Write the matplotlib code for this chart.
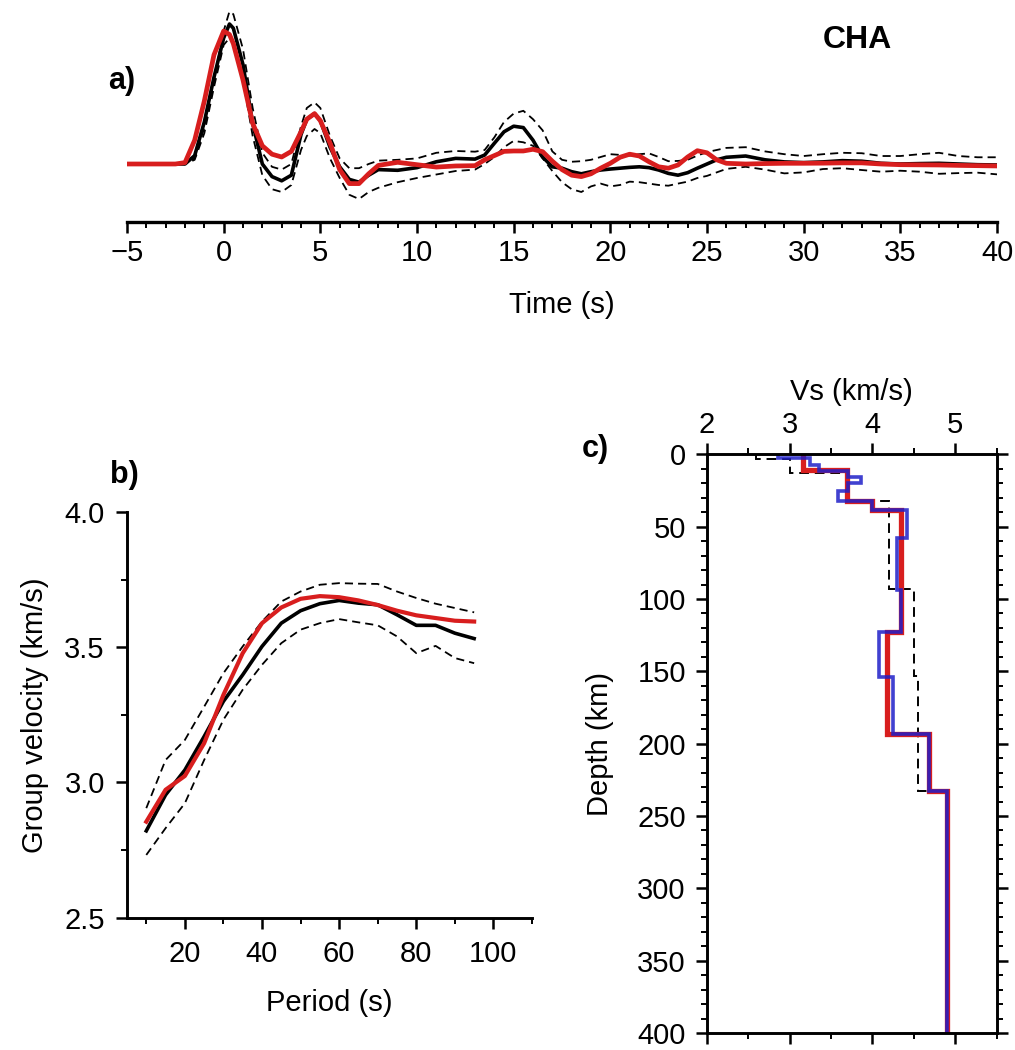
import matplotlib
matplotlib.use("Agg")
import matplotlib.pyplot as plt
from matplotlib.ticker import MultipleLocator

plt.rcParams["font.family"] = ["Liberation Sans", "DejaVu Sans"]
plt.rcParams["font.size"] = 21

# ---- panel a: waveforms ----
time_s = [-5, -2.5, -2, -1.5, -1, -0.5, 0, 0.3, 0.5, 1, 1.5, 2, 2.5, 3, 3.5, 4,
          4.3, 4.7, 5, 5.5, 6, 6.5, 7, 7.5, 8, 9, 10, 11, 12, 13, 13.5, 14, 14.5,
          15, 15.5, 16, 16.5, 17, 17.5, 18, 18.5, 19, 19.5, 20, 20.5, 21, 21.5,
          22, 22.5, 23, 23.5, 24, 24.5, 25, 25.5, 26, 27, 28, 29, 30, 31, 32, 33,
          34, 35, 36, 37, 38, 39, 40]
wave_obs = [0, 0, 0.0, 0.06, 0.30, 0.62, 0.90, 1.0, 0.97, 0.71, 0.29, 0.0, -0.09,
            -0.12, -0.08, 0.21, 0.32, 0.36, 0.31, 0.12, -0.02, -0.11, -0.13, -0.08,
            -0.04, -0.045, -0.026, 0.016, 0.04, 0.035, 0.064, 0.148, 0.23, 0.27,
            0.26, 0.17, 0.05, -0.02, -0.03, -0.055, -0.07, -0.055, -0.043, -0.036,
            -0.03, -0.024, -0.02, -0.026, -0.043, -0.067, -0.08, -0.062, -0.03, 0.0,
            0.03, 0.048, 0.057, 0.03, 0.015, 0.01, 0.015, 0.024, 0.02, 0.005, 0.0,
            0.003, 0.005, 0.0, -0.005, -0.007]
wave_syn = [0, 0, 0.01, 0.17, 0.45, 0.78, 0.95, 0.925, 0.86, 0.60, 0.29, 0.13, 0.07,
            0.05, 0.09, 0.23, 0.32, 0.36, 0.31, 0.15, -0.04, -0.14, -0.14, -0.07,
            -0.01, 0.012, -0.005, -0.022, -0.014, -0.012, 0.03, 0.06, 0.09, 0.093,
            0.093, 0.105, 0.088, 0.02, -0.04, -0.08, -0.09, -0.07, -0.03, 0.005,
            0.048, 0.07, 0.057, 0.016, -0.02, -0.03, -0.007, 0.05, 0.095, 0.08,
            0.03, 0.005, 0.0, 0.003, 0.005, 0.005, 0.006, 0.008, 0.008, 0.0, -0.005,
            -0.006, -0.007, -0.01, -0.012, -0.014]
wave_hi = [0, 0, 0.0, 0.04, 0.26, 0.6, 0.95, 1.09, 1.07, 0.82, 0.40, 0.08, -0.02,
           -0.04, 0.0, 0.27, 0.40, 0.44, 0.40, 0.2, 0.04, -0.03, -0.03, 0.0, 0.024,
           0.03, 0.04, 0.08, 0.093, 0.088, 0.1, 0.19, 0.3, 0.36, 0.38, 0.32, 0.24,
           0.09, 0.03, 0.016, 0.02, 0.03, 0.05, 0.07, 0.065, 0.06, 0.07, 0.076,
           0.05, 0.02, 0.022, 0.03, 0.06, 0.085, 0.1, 0.115, 0.12, 0.09, 0.07,
           0.057, 0.07, 0.08, 0.077, 0.057, 0.057, 0.07, 0.08, 0.057, 0.048, 0.048]
wave_lo = [0, 0, 0.0, 0.03, 0.22, 0.55, 0.85, 0.90, 0.87, 0.60, 0.20, -0.08, -0.18,
           -0.20, -0.15, 0.10, 0.20, 0.25, 0.22, 0.04, -0.1, -0.22, -0.25, -0.2,
           -0.17, -0.13, -0.1, -0.075, -0.05, -0.04, 0.0, 0.05, 0.12, 0.165, 0.155,
           0.13, 0.04, -0.05, -0.13, -0.18, -0.2, -0.16, -0.14, -0.16, -0.15,
           -0.126, -0.13, -0.14, -0.15, -0.155, -0.14, -0.126, -0.1, -0.085, -0.06,
           -0.035, -0.02, -0.04, -0.067, -0.06, -0.036, -0.03, -0.043, -0.055,
           -0.048, -0.055, -0.07, -0.065, -0.062, -0.074]

# ---- panel b: group velocity dispersion ----
period_s = [10, 15, 20, 25, 30, 35, 40, 45, 50, 55, 60, 65, 70, 75, 80, 85, 90, 95]
u_obs = [2.821, 2.954, 3.046, 3.17, 3.30, 3.398, 3.503, 3.589, 3.635, 3.661, 3.673,
         3.663, 3.657, 3.62, 3.581, 3.581, 3.552, 3.532]
u_syn = [2.855, 2.973, 3.024, 3.145, 3.324, 3.478, 3.589, 3.647, 3.679, 3.689, 3.685,
         3.673, 3.656, 3.635, 3.618, 3.608, 3.598, 3.595]
u_hi = [2.905, 3.083, 3.157, 3.28, 3.404, 3.503, 3.595, 3.669, 3.706, 3.731, 3.737,
        3.735, 3.734, 3.706, 3.682, 3.661, 3.645, 3.629]
u_lo = [2.732, 2.831, 2.923, 3.083, 3.232, 3.343, 3.435, 3.515, 3.565, 3.589, 3.604,
        3.592, 3.581, 3.540, 3.478, 3.505, 3.460, 3.441]

# ---- panel c: Vs models (layer edges in km, layer velocities in km/s) ----
ref_edges = [0, 3.0, 12.9, 32.5, 93, 153, 233, 400]
ref_vs = [2.6, 3.0, 3.68, 4.2, 4.5, 4.55, 4.9]
red_edges = [0, 10.6, 32.5, 38.3, 123, 193.5, 233, 400]
red_vs = [3.16, 3.69, 3.99, 4.34, 4.17, 4.68, 4.90]
blue_edges = [0, 2.6, 7.6, 11.3, 15.9, 19.8, 25.5, 32.5, 38.3, 57.8, 93.5, 123,
              153.7, 193.5, 233, 400]
blue_vs = [2.865, 3.25, 3.35, 3.70, 3.86, 3.70, 3.58, 3.99, 4.42, 4.30, 4.34, 4.08,
           4.25, 4.68, 4.90]

RED = "#d81e1e"
BLUE = "#1f1fc8"
W, H = 1015, 1050


def box(left, top, right, bottom):
    return [left / W, 1 - bottom / H, (right - left) / W, (bottom - top) / H]


def style_ticks(ax):
    ax.tick_params(which="major", direction="out", length=8, width=1.8)
    ax.tick_params(which="minor", direction="out", length=4.5, width=1.4)


fig = plt.figure(figsize=(W / 100, H / 100), dpi=100)

# panel a
ax1 = fig.add_axes(box(127, 5, 997, 222))
ax1.plot(time_s, wave_hi, color="black", lw=1.3, dashes=(4.5, 2.8))
ax1.plot(time_s, wave_lo, color="black", lw=1.3, dashes=(4.5, 2.8))
ax1.plot(time_s, wave_obs, color="black", lw=2.6)
ax1.plot(time_s, wave_syn, color=RED, lw=3.4)
ax1.set_xlim(-5, 40)
ax1.set_ylim(-0.4143, 1.1357)
for s in ["left", "top", "right"]:
    ax1.spines[s].set_visible(False)
ax1.spines["bottom"].set_linewidth(2.4)
ax1.set_yticks([])
ax1.xaxis.set_major_locator(MultipleLocator(5))
ax1.xaxis.set_minor_locator(MultipleLocator(1))
style_ticks(ax1)
ax1.tick_params(axis="x", pad=4)
ax1.set_xlabel("Time (s)")
ax1.xaxis.label.set_va("center")
ax1.xaxis.set_label_coords(0.5, (222 - 305) / 217)

# panel b
ax2 = fig.add_axes(box(127, 512, 532, 917.7))
ax2.plot(period_s, u_hi, color="black", lw=1.3, dashes=(4.5, 2.8))
ax2.plot(period_s, u_lo, color="black", lw=1.3, dashes=(4.5, 2.8))
ax2.plot(period_s, u_obs, color="black", lw=2.6)
ax2.plot(period_s, u_syn, color=RED, lw=3.0)
ax2.set_xlim(5, 110)
ax2.set_ylim(2.5, 4.0)
for s in ["top", "right"]:
    ax2.spines[s].set_visible(False)
for s in ["left", "bottom"]:
    ax2.spines[s].set_linewidth(2.1)
ax2.set_xticks([20, 40, 60, 80, 100])
ax2.set_xticks([10, 30, 50, 70, 90, 110], minor=True)
ax2.set_yticks([2.5, 3.0, 3.5, 4.0])
ax2.set_yticklabels(["2.5", "3.0", "3.5", "4.0"])
ax2.yaxis.set_minor_locator(MultipleLocator(0.25))
style_ticks(ax2)
ax2.tick_params(axis="both", pad=8)
ax2.set_xlabel("Period (s)")
ax2.xaxis.label.set_va("center")
ax2.xaxis.set_label_coords(0.5, (917.7 - 1003) / 405.7)
ax2.set_ylabel("Group velocity (km/s)")
ax2.yaxis.label.set_va("center")
ax2.yaxis.set_label_coords((35 - 127) / 405, 0.5)

# panel c
ax3 = fig.add_axes(box(706.7, 454.3, 996.7, 1033))
ax3.stairs(ref_vs, ref_edges, orientation="horizontal", baseline=None,
           color="black", lw=1.4, linestyle=(0, (5, 3)))
ax3.stairs(red_vs, red_edges, orientation="horizontal", baseline=None,
           color=RED, lw=3.8)
ax3.stairs(blue_vs, blue_edges, orientation="horizontal", baseline=None,
           color=BLUE, lw=2.6, alpha=0.85)
ax3.set_xlim(2, 5.5)
ax3.set_ylim(400, 0)
for s in ax3.spines.values():
    s.set_linewidth(2.1)
ax3.xaxis.set_major_locator(MultipleLocator(1))
ax3.xaxis.set_minor_locator(MultipleLocator(0.5))
ax3.yaxis.set_major_locator(MultipleLocator(50))
ax3.yaxis.set_minor_locator(MultipleLocator(10))
style_ticks(ax3)
ax3.tick_params(axis="x", which="both", top=True, bottom=True,
                labeltop=True, labelbottom=False)
ax3.tick_params(axis="y", which="both", left=True, right=True)
ax3.tick_params(axis="y", pad=7)
ax3.tick_params(axis="x", pad=3)
ax3.set_xlabel("Vs (km/s)")
ax3.xaxis.set_label_position("top")
ax3.xaxis.label.set_va("center")
ax3.xaxis.set_label_coords(0.5, 1 + (454.3 - 392) / 578.7)
ax3.set_ylabel("Depth (km)")
ax3.yaxis.label.set_va("center")
ax3.yaxis.set_label_coords((600 - 706.7) / 290, 0.5)

# panel letters and station name
fig.text(122 / W, 1 - 81 / H, "a)", fontsize=22, fontweight="bold",
         ha="center", va="center")
fig.text(124 / W, 1 - 475 / H, "b)", fontsize=22, fontweight="bold",
         ha="center", va="center")
fig.text(595 / W, 1 - 449 / H, "c)", fontsize=22, fontweight="bold",
         ha="center", va="center")
fig.text(857 / W, 1 - 40 / H, "CHA", fontsize=23, fontweight="bold",
         ha="center", va="center")

fig.savefig("out.png", dpi=100)
print("Saved: out.png")
